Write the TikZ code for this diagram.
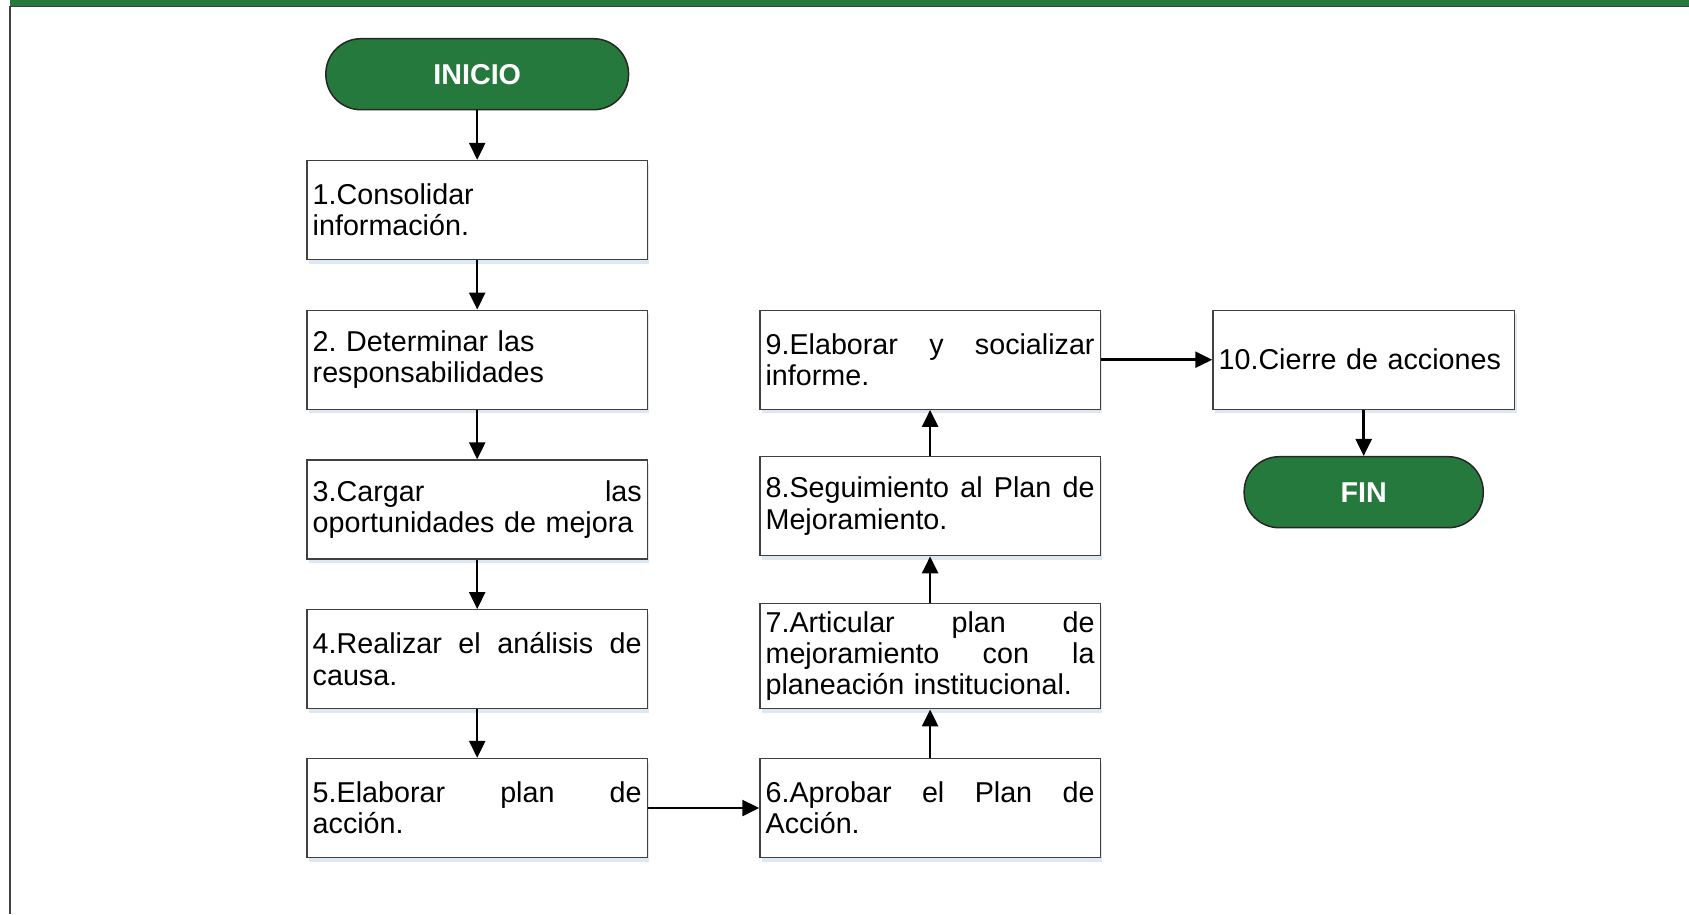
\documentclass[tikz,border=0pt]{standalone}
\usepackage{fontspec}
\setmainfont{Liberation Sans}
\usetikzlibrary{arrows.meta,shadows}
\definecolor{termgreen}{RGB}{38,121,61}
\definecolor{edgegray}{RGB}{64,64,64}
\definecolor{shadowc}{RGB}{214,226,240}
\newcommand{\boxfont}{\fontsize{28.7}{31.3}\selectfont\frenchspacing}
\newcommand{\termfont}{\fontsize{28.7}{31.3}\selectfont\bfseries}
\tikzset{
  stepbox/.style={draw=edgegray, line width=1.3pt, fill=white,
    text width=329pt, inner xsep=5.7pt, inner ysep=0pt,
    minimum height=99pt, align=left, font=\boxfont,
    drop shadow={shadow xshift=2pt, shadow yshift=-4pt, fill=shadowc, opacity=0.8}},
  term/.style={draw=black!85, line width=1.5pt, fill=termgreen, text=white,
    rounded corners=35pt, minimum height=71pt, font=\termfont, inner sep=0pt},
  flow/.style={line width=2.5pt, black, -{Triangle[length=17pt,width=16pt]}}
}
\begin{document}
\begin{tikzpicture}[x=1pt,y=-1pt]
\useasboundingbox (0,0) rectangle (1689,914);
% frame
\fill[termgreen] (10,0) rectangle (1689,6);
\draw[edgegray, line width=1.5pt] (10,6.5) -- (1689,6.5);
\draw[edgegray, line width=2pt] (10,6) -- (10,914);
% terminals
\node[term, minimum width=302.7pt] (inicio) at (477.2,74.2) {INICIO};
\node[term, minimum width=239.1pt] (fin) at (1363.7,492.2) {FIN};
% left column
\node[stepbox] (b1) at (477.2,210.0) {1.Consolidar\\información.};
\node[stepbox] (b2) at (477.2,359.7) {2. Determinar las\\responsabilidades};
\node[stepbox] (b3) at (477.2,509.5) {3.Cargar\hfill las\\oportunidades de mejora};
\node[stepbox] (b4) at (477.2,659.2) {4.Realizar\hfill el\hfill análisis\hfill de\\causa.};
\node[stepbox] (b5) at (477.2,808.0) {5.Elaborar\hfill plan\hfill de\\acción.};
% middle column
\node[stepbox] (b6) at (930.1,808.0) {6.Aprobar\hfill el\hfill Plan\hfill de\\Acción.};
\node[stepbox, minimum height=105.6pt] (b7) at (930.1,656.0) {7.Articular\hfill plan\hfill de\\mejoramiento\hfill con\hfill la\\planeación institucional.};
\node[stepbox] (b8) at (930.1,506.2) {8.Seguimiento\hfill al\hfill Plan\hfill de\\Mejoramiento.};
\node[stepbox] (b9) at (930.1,359.7) {9.Elaborar\hfill y\hfill socializar\\informe.};
% right column
\node[stepbox, text width=290.2pt] (b10) at (1363.7,359.7) {10.Cierre de acciones};
% connectors
\draw[flow] (inicio) -- (b1);
\draw[flow] (b1) -- (b2);
\draw[flow] (b2) -- (b3);
\draw[flow] (b3) -- (b4);
\draw[flow] (b4) -- (b5);
\draw[flow] (b5) -- (b6);
\draw[flow] (b6) -- (b7);
\draw[flow] (b7) -- (b8);
\draw[flow] (b8) -- (b9);
\draw[flow] (b9) -- (b10);
\draw[flow] (b10) -- (fin);
\end{tikzpicture}
\end{document}
